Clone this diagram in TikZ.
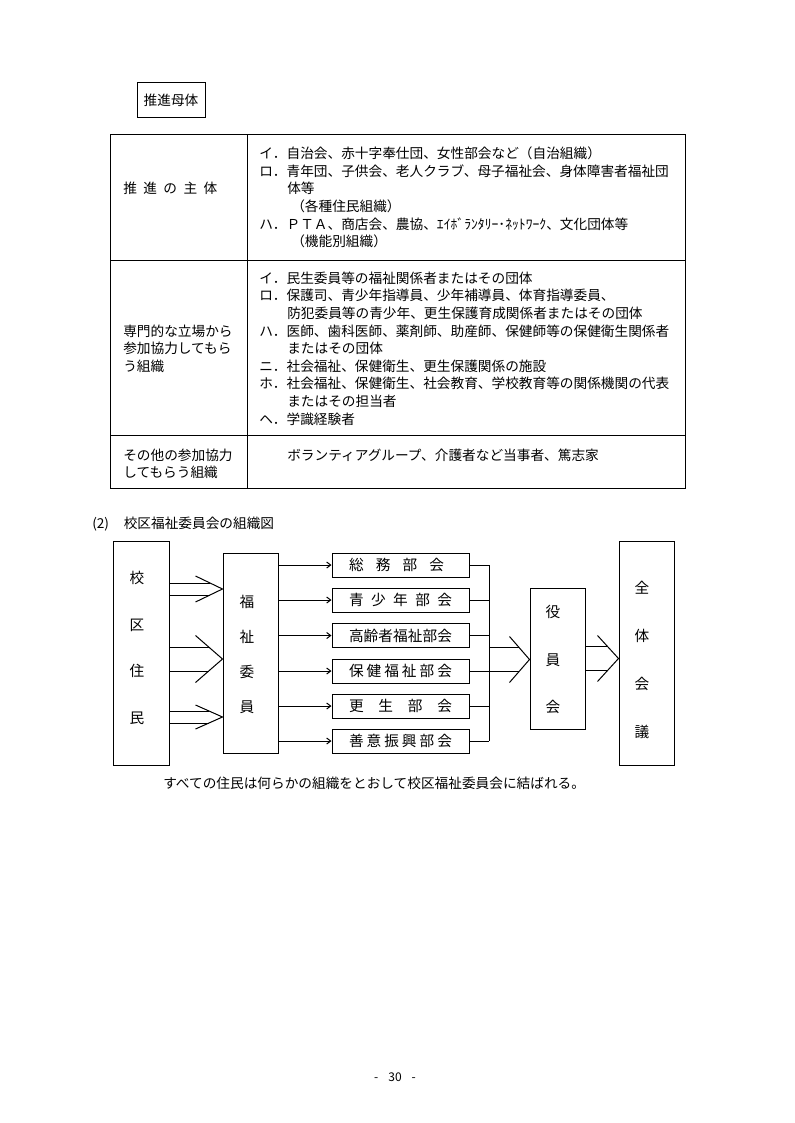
\documentclass[tikz,border=0pt]{standalone}
\usepackage{fontspec}
\newfontfamily\jp{Noto Sans CJK JP}
\usetikzlibrary{arrows.meta,calc}
\begin{document}
\begin{tikzpicture}[x=0.75pt,y=-0.75pt,
  every node/.style={font=\jp},
  body/.style={font=\jp\fontsize{10.25}{12}\selectfont, inner sep=0pt, anchor=west, text height=9pt, text depth=1.25pt},
  box/.style={draw, line width=0.75pt, inner sep=0pt},
  vert/.style={font=\jp\fontsize{11}{#1}\selectfont, align=center, inner sep=0pt},
  dept/.style={box, minimum width=102.75pt, minimum height=18pt, font=\jp\fontsize{11}{13}\selectfont},
  ln/.style={line width=0.75pt},
  arr/.style={ln, -{Straight Barb[length=3pt,width=4.5pt]}},
]
\useasboundingbox (0,0) rectangle (794,1123);
\fill[white] (0,0) rectangle (794,1123);

% ---- title box
\node[box, minimum width=51pt, minimum height=26.25pt, font=\jp\fontsize{10.25}{12}\selectfont] (suishin) at (171,100.5) {推進母体};

% ---- table
\draw[ln] (110,135) rectangle (685,488);
\draw[ln] (247,135) -- (247,488);
\draw[ln] (110,260) -- (685,260);
\draw[ln] (110,435) -- (685,435);

\node[body] (l1) at (123,188) {\makebox[70.5pt][s]{推\hfill 進\hfill の\hfill 主\hfill 体}};
\node[body] (a1) at (259,153) {イ．自治会、赤十字奉仕団、女性部会など（自治組織）};
\node[body] (a2) at (259,171) {ロ．青年団、子供会、老人クラブ、母子福祉会、身体障害者福祉団};
\node[body] (a3) at (287,188) {体等};
\node[body] (a4) at (291,206) {（各種住民組織）};
\node[body] (a5) at (259,224) {ハ．ＰＴＡ、商店会、農協、ｴｲﾎﾞﾗﾝﾀﾘｰ･ﾈｯﾄﾜｰｸ、文化団体等};
\node[body] (a6) at (291,241) {（機能別組織）};

\node[body] (l2a) at (123,331) {専門的な立場から};
\node[body] (l2b) at (123,348) {参加協力してもら};
\node[body] (l2c) at (123,366) {う組織};
\node[body] (b1) at (259,278) {イ．民生委員等の福祉関係者またはその団体};
\node[body] (b2) at (259,295) {ロ．保護司、青少年指導員、少年補導員、体育指導委員、};
\node[body] (b3) at (287,313) {防犯委員等の青少年、更生保護育成関係者またはその団体};
\node[body] (b4) at (259,331) {ハ．医師、歯科医師、薬剤師、助産師、保健師等の保健衛生関係者};
\node[body] (b5) at (287,348) {またはその団体};
\node[body] (b6) at (259,366) {ニ．社会福祉、保健衛生、更生保護関係の施設};
\node[body] (b7) at (259,383) {ホ．社会福祉、保健衛生、社会教育、学校教育等の関係機関の代表};
\node[body] (b8) at (287,401) {またはその担当者};
\node[body] (b9) at (259,419) {ヘ．学識経験者};

\node[body] (l3a) at (123,455) {その他の参加協力};
\node[body] (l3b) at (123,472) {してもらう組織};
\node[body] (c1) at (287,455) {ボランティアグループ、介護者など当事者、篤志家};

% ---- org chart
\node[body] (heading) at (92,523) {(2)\hspace{11pt}校区福祉委員会の組織図};

\node[box, minimum width=42pt, minimum height=168pt] (jumin) at (141,653) {};
\node[vert=35pt] (juminT) at (137,648) {校\\区\\住\\民};

\node[box, minimum width=41.25pt, minimum height=150pt] (iin) at (250.5,653) {};
\node[vert=26.25pt] (iinT) at (247,654.5) {福\\祉\\委\\員};

\node[dept] (d1) at (400.5,565) {\makebox[77.25pt][l]{\makebox[71.25pt][s]{総\hfill 務\hfill 部\hfill 会}}};
\node[dept] (d2) at (400.5,600) {\makebox[77.25pt][s]{青\hfill 少\hfill 年\hfill 部\hfill 会}};
\node[dept] (d3) at (400.5,635.5) {\makebox[77.25pt][s]{高\hfill 齢\hfill 者\hfill 福\hfill 祉\hfill 部\hfill 会}};
\node[dept] (d4) at (400.5,671) {\makebox[77.25pt][s]{保\hfill 健\hfill 福\hfill 祉\hfill 部\hfill 会}};
\node[dept] (d5) at (400.5,706) {\makebox[77.25pt][s]{更\hfill 生\hfill 部\hfill 会}};
\node[dept] (d6) at (400.5,741) {\makebox[77.25pt][s]{善\hfill 意\hfill 振\hfill 興\hfill 部\hfill 会}};

\node[box, minimum width=41.25pt, minimum height=105.75pt] (yakuin) at (557.5,658.5) {};
\node[vert=35.6pt] (yakuinT) at (553,659.5) {役\\員\\会};

\node[box, minimum width=41.25pt, minimum height=168pt] (zentai) at (646.5,653) {};
\node[vert=36pt] (zentaiT) at (642,660) {全\\体\\会\\議};

% arrows from 福祉委員 to the sections
\foreach \d in {d1,d2,d3,d4,d5,d6}
  \draw[arr] (iin.east |- \d.west) -- (\d.west);

% bracket
\coordinate (bx) at (489,0);
\foreach \d in {d1,d2,d3,d4,d5,d6}
  \draw[ln] (\d.east) -- (bx |- \d.east);
\draw[ln] (bx |- d1.east) -- (bx |- d6.east);

% chevrons: 校区住民 -> 福祉委員
\coordinate (ta) at (iin.west |- 0,589);
\draw[ln] ($(ta)+(-27,-13)$) -- (ta) -- ($(ta)+(-27,13)$);
\draw[ln] (jumin.east |- 0,583) -- ($(ta)+(-12.5,-6)$);
\draw[ln] (jumin.east |- 0,595) -- ($(ta)+(-12.5,6)$);

\coordinate (tb) at (iin.west |- 0,659);
\draw[ln] ($(tb)+(-27,-23.5)$) -- (tb) -- ($(tb)+(-27,23.5)$);
\draw[ln] (jumin.east |- 0,647) -- ($(tb)+(-13.8,-12)$);
\draw[ln] (jumin.east |- 0,671) -- ($(tb)+(-13.8,12)$);

\coordinate (tc) at (iin.west |- 0,717);
\draw[ln] ($(tc)+(-27,-12)$) -- (tc) -- ($(tc)+(-27,12)$);
\draw[ln] (jumin.east |- 0,711) -- ($(tc)+(-13.5,-6)$);
\draw[ln] (jumin.east |- 0,723) -- ($(tc)+(-13.5,6)$);

% chevron: bracket -> 役員会
\coordinate (td) at (yakuin.west |- 0,659.5);
\draw[ln] ($(td)+(-20,-23)$) -- (td) -- ($(td)+(-20,23)$);
\draw[ln] (bx |- 0,647.5) -- ($(td)+(-10.4,-12)$);
\draw[ln] (bx |- 0,671.5) -- ($(td)+(-10.4,12)$);

% chevron: 役員会 -> 全体会議
\coordinate (te) at (zentai.west |- 0,658.5);
\draw[ln] ($(te)+(-21,-23)$) -- (te) -- ($(te)+(-21,23)$);
\draw[ln] (yakuin.east |- 0,646.5) -- ($(te)+(-11,-12)$);
\draw[ln] (yakuin.east |- 0,670.5) -- ($(te)+(-11,12)$);

\node[body] (cap) at (163,783) {すべての住民は何らかの組織をとおして校区福祉委員会に結ばれる。};

\node[font=\jp\fontsize{9}{11}\selectfont, inner sep=0pt] (pg) at (395,1077) {-\hspace{7.5pt}30\hspace{7.5pt}-};
\end{tikzpicture}
\end{document}
